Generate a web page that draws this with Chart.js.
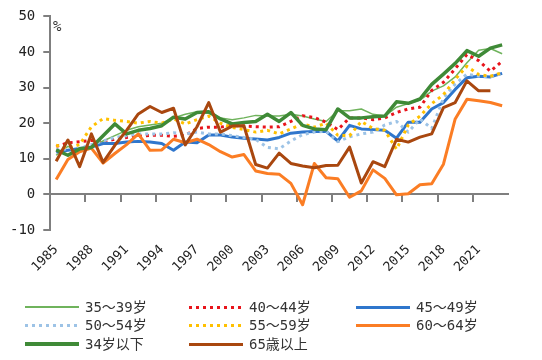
<!DOCTYPE html>
<html>
<head>
<meta charset="utf-8">
<script src="https://cdn.jsdelivr.net/npm/chart.js@4"></script>
<style>
  html, body { margin: 0; padding: 0; background: #fff; }
  #wrap { position: relative; width: 542px; height: 360px; background: #fff; }
  #c { position: absolute; left: 0; top: 0; }
  .pct { position: absolute; left: 53px; top: 18px; font: 14px 'DejaVu Sans Mono', monospace; color: #333; }
  .leg { position: absolute; left: 0; top: 0; font: 14px 'DejaVu Sans Mono', 'Noto Sans CJK SC', 'Noto Sans CJK JP', monospace; color: #333; }
  .leg .item { position: absolute; white-space: nowrap; height: 18px; line-height: 18px; }
  .leg .sw { position: absolute; left: 0; width: 54px; }
  .leg .tx { position: absolute; left: 60px; top: 0; }
</style>
</head>
<body>
<div id="wrap">
  <canvas id="c" width="542" height="360"></canvas>
  <div class="pct">%</div>
  <div class="leg" id="leg"></div>
</div>
<script>
const years = [];
for (let y = 1985; y <= 2023; y++) years.push(String(y));

const seriesNames = ['35～39岁', '40～44岁', '45～49岁', '50～54岁', '55～59岁', '60～64岁', '34岁以下', '65歳以上'];

const s35_39 = [11,13.5,12,13.5,15,16.5,18,19,19.5,20,21.5,22.5,23.2,22.8,21.5,21,21.5,22.2,22,22,22.5,22,21.2,20.5,23.5,23.5,24,22.5,22,24.5,25.5,26.5,29,30.5,33,37,40.5,41,39.5];
const s40_44 = [13.5,14.5,14.8,15.2,14.8,15.5,16,16.3,16.6,16.6,16.3,16.6,18.5,18.9,18.9,19.4,19.2,19,18.9,19,20.5,22.1,21.6,20.3,18.2,21.5,21.5,21,21.5,23,24,24.5,29.2,31.5,35.3,39.3,37.6,34.6,37.4];
const s45_49 = [11.9,12.4,12.9,13.3,14.3,14.3,14.7,14.9,14.7,14.3,12.4,14.7,14.5,16.7,16.7,16.1,15.8,15.6,15.3,16,17.2,17.5,17.7,17.7,15,19.4,18.4,18.2,18,15.8,20.3,20.3,24,25.8,29.5,32.8,33.2,33,34];
const s50_54 = [12.5,12.8,13,14,15,16,16.5,17,17,17,17.3,17,17.5,17,17,16.5,16,15.5,13.2,12.8,15,16.8,17.5,17.7,14.8,16.2,17,17.5,19.5,20.5,17.5,21.2,18.5,27,31,33.8,33.2,33,34];
const s55_59 = [13.8,13,14,19,21.3,20.8,20.5,20,20.5,20,21.2,19.8,21,22,20,18.8,18.2,17.5,18,17,18.4,19.8,18.9,20,16.6,16.5,20.5,18.5,18,12.7,19.5,22,25.5,28,32.3,36,33.7,33.2,34.2];
const s60_64 = [4.2,9.8,12,13,8.8,11.5,14,17,12.4,12.5,15.5,14.5,15.5,14,12,10.5,11.2,6.6,5.9,5.7,3.1,-2.9,8.7,4.7,4.4,-0.8,1,6.9,4.5,-0.1,0.2,2.7,3,8.5,21.2,26.7,26.3,25.8,24.9];
const s34under = [12.5,11,12.8,13.2,16.5,19.8,17,18,18.5,19.3,21.7,21.2,23,23.2,21.2,19.8,20.2,20.5,22.5,20.5,23,19.4,18.4,18.2,24,21.5,21.5,21.8,22,26,25.6,26.8,30.9,33.8,36.8,40.4,38.8,41.1,42];
const s65over = [9.3,15.3,7.8,17,9,13.8,18,22.6,24.7,23,24.2,13.9,19,25.8,17.5,19.2,19.3,8.4,7.4,11.6,8.7,8,7.5,8.1,8.2,13.3,3.2,9.2,7.8,15.5,14.7,16.1,17,24.4,25.8,31.9,29.1,29.1,null];

const seriesData = [s35_39, s40_44, s45_49, s50_54, s55_59, s60_64, s34under, s65over];
const colors = ['#6fb35c', '#e8141b', '#2f76cc', '#9dc3e6', '#ffc000', '#fb7d24', '#3f8a37', '#a9470f'];
const widths = [1.5, 3, 3, 3, 3, 3, 3.5, 3];
const dashes = [[], [3, 4], [], [3, 4], [3, 4], [], [], []];

const datasets = seriesData.map((d, i) => ({
  label: seriesNames[i],
  data: d,
  borderColor: colors[i],
  backgroundColor: colors[i],
  borderWidth: widths[i],
  borderDash: dashes[i],
  borderCapStyle: 'butt',
  borderJoinStyle: 'round',
  pointRadius: 0,
  tension: 0,
  fill: false,
  order: seriesData.length - i
}));

const axisColor = '#7f7f7f';

new Chart(document.getElementById('c'), {
  type: 'line',
  data: { labels: years, datasets },
  options: {
    responsive: false,
    animation: false,
    layout: { padding: { left: 2, right: 34, top: 11.6, bottom: 72.8 } },
    plugins: { legend: { display: false }, tooltip: { enabled: false } },
    scales: {
      x: {
        offset: true,
        grid: { display: false, drawTicks: false },
        border: { display: false },
        ticks: {
          autoSkip: false, maxRotation: 45, minRotation: 45, padding: 12, color: '#222',
          font: { family: "'DejaVu Sans Mono', monospace", size: 13 },
          callback: function (v, i) { return i % 3 === 0 ? years[i] : ''; }
        }
      },
      x2: {
        type: 'category', labels: years, position: { y: 0 }, offset: true,
        grid: { offset: true, drawOnChartArea: false, tickLength: 7, lineWidth: 2, color: (c) => (c.index % 3 === 0 ? axisColor : 'rgba(0,0,0,0)') },
        border: { display: true, color: axisColor, width: 2 },
        ticks: { display: false, autoSkip: false }
      },
      y: {
        min: -10, max: 50,
        ticks: { stepSize: 10, padding: 8, color: '#222', font: { family: "'DejaVu Sans Mono', monospace", size: 14 } },
        grid: { drawOnChartArea: false, tickLength: 7, lineWidth: 2, color: axisColor },
        border: { display: true, color: axisColor, width: 2 }
      }
    }
  }
});

const leg = document.getElementById('leg');
const colX = [25, 189, 356];
const rowY = [298, 316, 335];
seriesNames.forEach((name, i) => {
  const item = document.createElement('div');
  item.className = 'item';
  item.style.left = colX[i % 3] + 'px';
  item.style.top = rowY[Math.floor(i / 3)] + 'px';
  const sw = document.createElement('div');
  sw.className = 'sw';
  const h = Math.max(2, Math.round(widths[i]));
  sw.style.height = h + 'px';
  sw.style.top = (9 - h / 2) + 'px';
  sw.style.background = dashes[i].length ? `repeating-linear-gradient(90deg, ${colors[i]} 0 3px, transparent 3px 7px)` : colors[i];
  const tx = document.createElement('div');
  tx.className = 'tx';
  tx.textContent = name;
  item.appendChild(sw);
  item.appendChild(tx);
  leg.appendChild(item);
});
</script>
</body>
</html>
